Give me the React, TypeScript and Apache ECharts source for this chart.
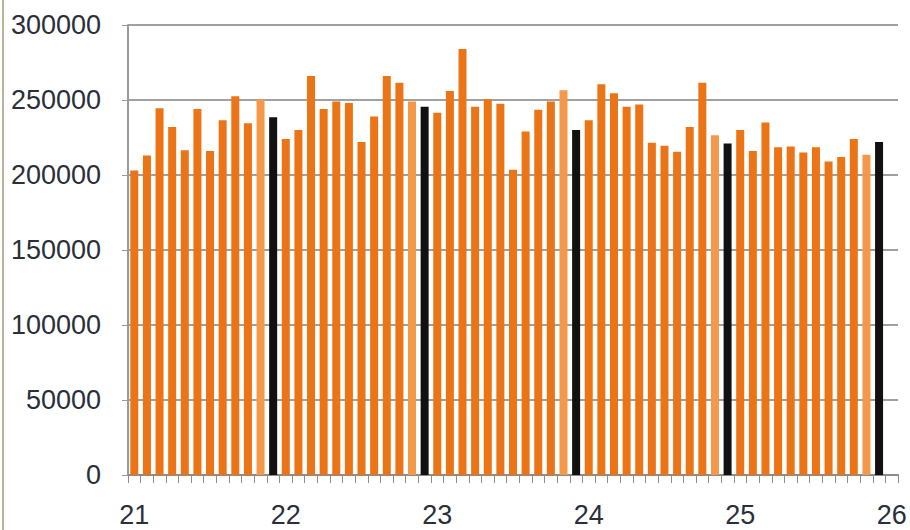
import React, { useEffect, useRef } from "react";
import * as echarts from "echarts";

// Monthly values, one array per year (months 1..12)
const y21 = [203000, 213000, 244500, 232000, 216500, 244000, 216000, 236500, 252500, 234500, 250500, 238500];
const y22 = [224000, 230000, 266000, 244000, 249000, 248000, 222000, 239000, 266000, 261500, 249000, 245500];
const y23 = [241500, 256000, 284000, 245500, 250500, 247500, 203500, 229000, 243500, 249000, 256500, 230000];
const y24 = [236500, 260500, 254500, 245500, 247000, 221500, 219500, 215500, 232000, 261500, 226500, 221000];
const y25 = [230000, 216000, 235000, 218500, 219000, 215000, 218500, 209000, 212000, 224000, 213500, 222000];

const yearLabels = ["21", "22", "23", "24", "25", "26"];
const yTicks = [0, 50000, 100000, 150000, 200000, 250000, 300000];

const ORANGE = "#EA7416";
const LIGHT_ORANGE = "#F4984A";
const BLACK = "#111111";

export default function App() {
  const ref = useRef<HTMLDivElement>(null);

  useEffect(() => {
    if (!ref.current) return;
    const chart = echarts.init(ref.current, undefined, { renderer: "svg" });

    const years = [y21, y22, y23, y24, y25];
    const values: number[] = [];
    years.forEach((y) => y.forEach((v) => values.push(v)));

    // 60 monthly slots + one extra slot for the closing year label
    const categories: string[] = [];
    for (let i = 0; i <= values.length; i++) {
      categories.push(i % 12 === 0 ? yearLabels[i / 12] : "");
    }

    const data = values.map((v, i) => {
      const m = i % 12;
      const color = m === 11 ? BLACK : m === 10 ? LIGHT_ORANGE : ORANGE;
      return { value: v, itemStyle: { color } };
    });

    chart.setOption({
      animation: false,
      backgroundColor: "#ffffff",
      grid: { left: 128, right: 12, top: 25, bottom: 55, containLabel: false },
      xAxis: {
        type: "category",
        data: categories,
        boundaryGap: true,
        axisLine: { show: true, lineStyle: { color: "#8c8c8c", width: 2 } },
        axisTick: { show: true, interval: 0, length: 8, lineStyle: { color: "#8c8c8c", width: 1 } },
        axisLabel: {
          interval: (i: number) => i % 12 === 0,
          margin: 26,
          fontSize: 27,
          fontFamily: "Liberation Sans",
          color: "#2a2f3a",
        },
        splitLine: { show: false },
      },
      yAxis: {
        type: "value",
        min: yTicks[0],
        max: yTicks[yTicks.length - 1],
        interval: 50000,
        axisLine: { show: true, lineStyle: { color: "#9a9a9a", width: 2 } },
        axisTick: { show: true, length: 6, lineStyle: { color: "#9a9a9a" } },
        axisLabel: {
          margin: 27,
          fontSize: 27,
          fontFamily: "Liberation Sans",
          color: "#2a2f3a",
          formatter: (v: number) => String(v),
        },
        splitLine: { show: true, lineStyle: { color: "#a0a0a0", width: 2 } },
      },
      series: [
        {
          type: "bar",
          data,
          barWidth: 8,
        },
      ],
      graphic: [
        {
          type: "line",
          shape: { x1: 3, y1: 0, x2: 3, y2: 530 },
          style: { stroke: "#a89a78", lineWidth: 1.5 },
        },
      ],
    });

    return () => chart.dispose();
  }, []);

  return (
    <div
      ref={ref}
      style={{ position: "fixed", left: 0, top: 0, width: 910, height: 530 }}
    />
  );
}
